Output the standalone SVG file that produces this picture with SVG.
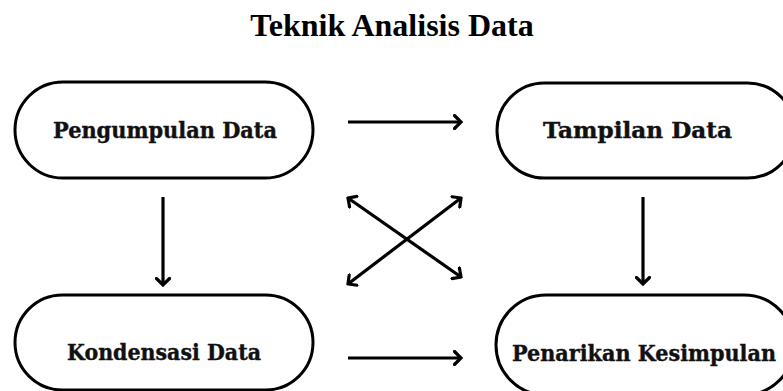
<svg xmlns="http://www.w3.org/2000/svg" width="783" height="391" viewBox="0 0 783 391">
<defs>
<style>
.node rect{fill:#fff;stroke:#000;stroke-width:3}
.node text{font-family:"DejaVu Serif",serif;font-weight:bold;font-size:22px;fill:#111;stroke:#111;stroke-width:0.4;text-anchor:middle}
.title{font-family:"Liberation Serif",serif;font-weight:bold;font-size:32px;fill:#000;text-anchor:middle}
.conn line{stroke:#000;stroke-width:3.2;fill:none}
</style>
<marker id="ah" viewBox="0 0 10 16" refX="8" refY="8" markerWidth="10" markerHeight="16" markerUnits="userSpaceOnUse" orient="auto-start-reverse">
<path d="M1.5,1.5 L8,8 L1.5,14.5" fill="none" stroke="#000" stroke-width="3.2" stroke-linecap="round" stroke-linejoin="miter"/>
</marker>
</defs>
<rect width="783" height="391" fill="#fff"/>
<text class="title" x="392" y="36">Teknik Analisis Data</text>
<g id="pengumpulan" class="node"><rect x="15" y="82" width="298" height="96" rx="48"/><text x="165" y="138" textLength="224" lengthAdjust="spacingAndGlyphs">Pengumpulan Data</text></g>
<g id="tampilan" class="node"><rect x="497" y="83" width="298" height="95" rx="47.5"/><text x="637.5" y="138" textLength="189" lengthAdjust="spacingAndGlyphs">Tampilan Data</text></g>
<g id="kondensasi" class="node"><rect x="15" y="295" width="298" height="95" rx="47.5"/><text x="164" y="360" textLength="194" lengthAdjust="spacingAndGlyphs">Kondensasi Data</text></g>
<g id="penarikan" class="node"><rect x="496" y="295" width="298" height="100" rx="50"/><text x="644" y="361" textLength="264" lengthAdjust="spacingAndGlyphs">Penarikan Kesimpulan</text></g>
<g id="connectors" class="conn">
<line x1="348" y1="122" x2="461" y2="122" marker-end="url(#ah)"/>
<line x1="348" y1="358" x2="461" y2="358" marker-end="url(#ah)"/>
<line x1="163" y1="197" x2="163" y2="285" marker-end="url(#ah)"/>
<line x1="643" y1="197" x2="643" y2="284" marker-end="url(#ah)"/>
<line x1="348" y1="198" x2="461" y2="277" marker-start="url(#ah)" marker-end="url(#ah)"/>
<line x1="461" y1="198" x2="348" y2="284" marker-start="url(#ah)" marker-end="url(#ah)"/>
</g>
</svg>
